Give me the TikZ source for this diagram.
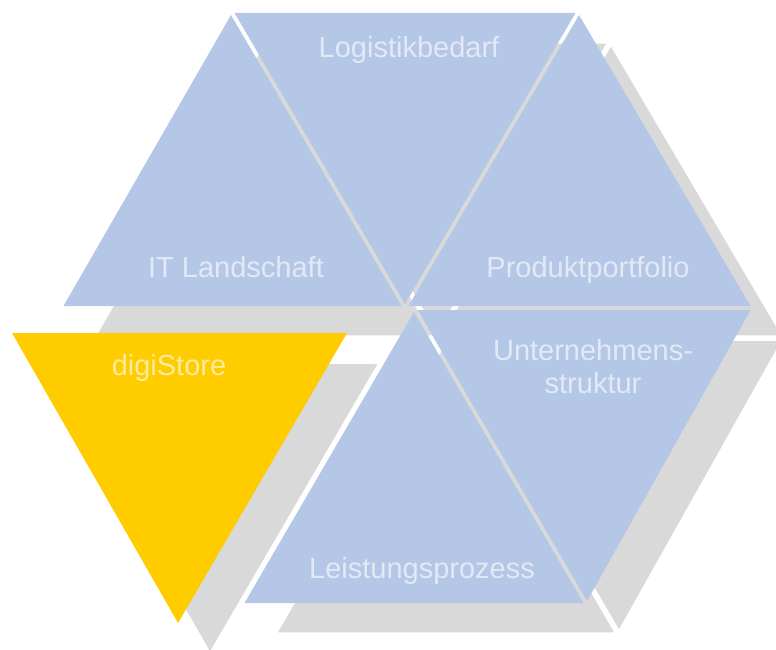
\documentclass[tikz,border=0pt]{standalone}
\usepackage{fontspec}
\setmainfont{Liberation Sans}
\definecolor{hexblue}{HTML}{B4C7E7}
\definecolor{shadowgray}{HTML}{D9D9D9}
\definecolor{storeyellow}{HTML}{FFCC00}
\tikzset{
  lbl/.style={text=white, text opacity=0.62, font=\fontsize{29}{33}\selectfont,
    anchor=base, inner sep=0pt, align=center},
  bluetri/.style={fill=hexblue},
  yellowtri/.style={fill=storeyellow},
  shadowtri/.style={fill=shadowgray, draw=white, line width=1.5pt, line join=miter, shift={(32,30)}},
}
\begin{document}
\begin{tikzpicture}[x=1pt, y=-1pt]
  \useasboundingbox (0,0) rectangle (776,650);
  % shadows
  \fill[shadowtri] (63.5,306) -- (401.5,306) -- (231,15) -- cycle;
  \fill[shadowtri] (234.5,13) -- (575.5,13) -- (405,304) -- cycle;
  \fill[shadowtri] (408.5,306) -- (750.5,306) -- (579,15) -- cycle;
  \fill[shadowtri] (414,312) -- (244.5,603) -- (583.5,603) -- cycle;
  \fill[shadowtri] (417.5,310) -- (750.5,310) -- (587,601) -- cycle;
  \fill[shadowtri] (12,333) -- (347,333) -- (178,623) -- cycle;
  \draw[shadowtri] (63.5,306) -- (401.5,306) -- (231,15) -- cycle;
  \draw[shadowtri] (234.5,13) -- (575.5,13) -- (405,304) -- cycle;
  \draw[shadowtri] (408.5,306) -- (750.5,306) -- (579,15) -- cycle;
  \draw[shadowtri] (414,312) -- (244.5,603) -- (583.5,603) -- cycle;
  \draw[shadowtri] (417.5,310) -- (750.5,310) -- (587,601) -- cycle;
  \draw[shadowtri] (12,333) -- (347,333) -- (178,623) -- cycle;
  % triangles
  \fill[bluetri] (63.5,306) -- (401.5,306) -- (231,15) -- cycle;
  \fill[bluetri] (234.5,13) -- (575.5,13) -- (405,304) -- cycle;
  \fill[bluetri] (408.5,306) -- (750.5,306) -- (579,15) -- cycle;
  \fill[bluetri] (414,312) -- (244.5,603) -- (583.5,603) -- cycle;
  \fill[bluetri] (417.5,310) -- (750.5,310) -- (587,601) -- cycle;
  \fill[yellowtri] (12,333) -- (347,333) -- (178,623) -- cycle;
  % labels
  \node[lbl] (logistik) at (409,58) {Logistikbedarf};
  \node[lbl] (itland) at (236,277) {IT Landschaft};
  \node[lbl] (produkt) at (588,277) {Produktportfolio};
  \node[lbl] (unter1) at (593,360) {Unternehmens-};
  \node[lbl] (unter2) at (593,393) {struktur};
  \node[lbl] (leistung) at (422,578) {Leistungsprozess};
  \node[lbl] (digi) at (169,375) {digiStore};
\end{tikzpicture}
\end{document}
